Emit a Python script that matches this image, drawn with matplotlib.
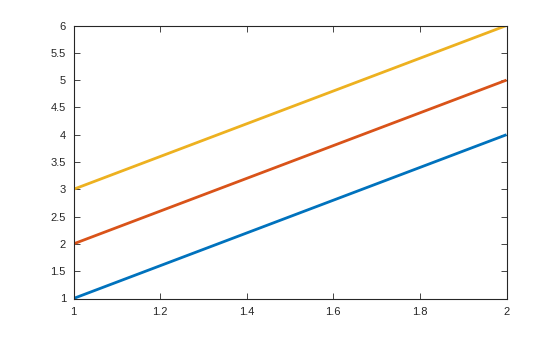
import matplotlib
matplotlib.use("Agg")
import matplotlib.pyplot as plt
import numpy as np

x = [1, 2]
series = [[1, 4], [2, 5], [3, 6]]
colors = ["#0072BD", "#D95319", "#EDB120"]
xticks = [1, 1.2, 1.4, 1.6, 1.8, 2]
yticks = [1, 1.5, 2, 2.5, 3, 3.5, 4, 4.5, 5, 5.5, 6]

plt.rcParams['font.family'] = ['Liberation Sans', 'DejaVu Sans']

fig = plt.figure(figsize=(5.6, 3.37), dpi=100)
ax = fig.add_axes([73.5 / 560, 1 - 298.5 / 337, (506.5 - 73.5) / 560, (298.5 - 25.5) / 337])

for y, c in zip(series, colors):
    ax.plot(x, y, color=c, linewidth=2.0, solid_capstyle='butt')

ax.set_xlim(1, 2)
ax.set_ylim(1, 6)
ax.set_xticks(xticks)
ax.set_xticklabels([f"{v:g}" for v in xticks])
ax.set_yticks(yticks)
ax.set_yticklabels([f"{v:g}" for v in yticks])

ax.tick_params(direction='in', length=4, width=0.6, labelsize=8, colors='#262626',
               top=True, right=True)
ax.tick_params(axis='x', pad=6)
ax.tick_params(axis='y', pad=5.5)
for s in ax.spines.values():
    s.set_linewidth(0.8)
    s.set_color('#262626')

fig.savefig("out.png", dpi=100)
